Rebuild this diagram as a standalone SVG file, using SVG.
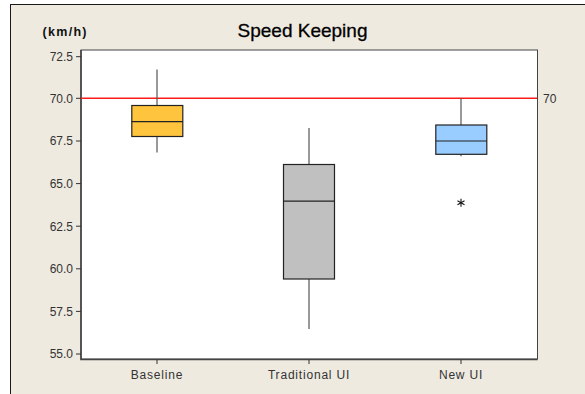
<svg xmlns="http://www.w3.org/2000/svg" width="585" height="394" viewBox="0 0 585 394">
  <style>
    .frame { fill: #EEEAE0; stroke: #1a1a1a; stroke-width: 1; }
    .plot { fill: #ffffff; stroke: #444; stroke-width: 1; }
    .axis { stroke: #444; stroke-width: 1.6; fill: none; }
    .tick { stroke: #333; stroke-width: 1; }
    .ylab { font-family: "Liberation Sans", Arial, sans-serif; font-size: 12px; fill: #333; text-anchor: end; }
    .xlab { font-family: "Liberation Sans", Arial, sans-serif; font-size: 12px; fill: #333; text-anchor: middle; letter-spacing: 0.8px; }
    .whisker { stroke: #555; stroke-width: 1.2; }
    .box { stroke: #222; stroke-width: 1.2; }
    .median { stroke: #222; stroke-width: 1.2; }
    .ref { stroke: #ff1a1a; stroke-width: 1.4; }
  </style>

  <!-- background panel -->
  <rect class="frame" x="10.5" y="4.5" width="600" height="420"/>

  <!-- titles -->
  <text x="302.5" y="37" font-family="Liberation Sans, Arial, sans-serif" font-size="19" fill="#000" stroke="#000" stroke-width="0.3" text-anchor="middle">Speed Keeping</text>
  <text x="42.5" y="36" font-family="Liberation Sans, Arial, sans-serif" font-size="12.5" font-weight="bold" fill="#111" letter-spacing="1.3">(km/h)</text>

  <!-- plot area -->
  <rect class="plot" x="81" y="50" width="456.5" height="309"/>
  <path class="axis" d="M81 50 V359.5 H537.5"/>

  <!-- y axis ticks and labels -->
  <g id="y-axis">
    <line class="tick" x1="76" y1="56.7" x2="81" y2="56.7"/>
    <line class="tick" x1="76" y1="98.3" x2="81" y2="98.3"/>
    <line class="tick" x1="76" y1="141" x2="81" y2="141"/>
    <line class="tick" x1="76" y1="183.6" x2="81" y2="183.6"/>
    <line class="tick" x1="76" y1="226.2" x2="81" y2="226.2"/>
    <line class="tick" x1="76" y1="268.8" x2="81" y2="268.8"/>
    <line class="tick" x1="76" y1="311.4" x2="81" y2="311.4"/>
    <line class="tick" x1="76" y1="354" x2="81" y2="354"/>
    <text class="ylab" x="73" y="61">72.5</text>
    <text class="ylab" x="73" y="102.6">70.0</text>
    <text class="ylab" x="73" y="145.3">67.5</text>
    <text class="ylab" x="73" y="187.9">65.0</text>
    <text class="ylab" x="73" y="230.5">62.5</text>
    <text class="ylab" x="73" y="273.1">60.0</text>
    <text class="ylab" x="73" y="315.7">57.5</text>
    <text class="ylab" x="73" y="358.3">55.0</text>
  </g>

  <!-- x axis ticks and labels -->
  <g id="x-axis">
    <line class="tick" x1="157" y1="359.5" x2="157" y2="364"/>
    <line class="tick" x1="309" y1="359.5" x2="309" y2="364"/>
    <line class="tick" x1="461" y1="359.5" x2="461" y2="364"/>
    <text class="xlab" x="157" y="379">Baseline</text>
    <text class="xlab" x="309" y="379">Traditional UI</text>
    <text class="xlab" x="461" y="379">New UI</text>
  </g>

  <!-- reference line at 70 -->
  <g id="reference">
    <line class="ref" x1="81" y1="98.3" x2="537" y2="98.3"/>
    <text x="543" y="102.6" font-family="Liberation Sans, Arial, sans-serif" font-size="12" fill="#333">70</text>
  </g>

  <!-- Baseline -->
  <g id="baseline">
    <line class="whisker" x1="157" y1="69.5" x2="157" y2="105.5"/>
    <line class="whisker" x1="157" y1="136.5" x2="157" y2="152.5"/>
    <rect class="box" x="131.8" y="105.5" width="51" height="31" fill="#FFC43D"/>
    <line class="median" x1="131.8" y1="121.7" x2="182.8" y2="121.7"/>
  </g>

  <!-- Traditional UI -->
  <g id="traditional">
    <line class="whisker" x1="309" y1="128" x2="309" y2="164.5"/>
    <line class="whisker" x1="309" y1="279" x2="309" y2="329"/>
    <rect class="box" x="283.5" y="164.5" width="51" height="114.5" fill="#C0C0C0"/>
    <line class="median" x1="283.5" y1="201.2" x2="334.5" y2="201.2"/>
  </g>

  <!-- New UI -->
  <g id="newui">
    <line class="whisker" x1="461" y1="98.3" x2="461" y2="125"/>
    <line class="whisker" x1="461" y1="154.3" x2="461" y2="156.3"/>
    <rect class="box" x="435.8" y="125" width="51" height="29.3" fill="#99CCFF"/>
    <line class="median" x1="435.8" y1="141" x2="486.8" y2="141"/>
    <!-- outlier -->
    <g stroke="#111" stroke-width="1.1">
      <line x1="461" y1="198.7" x2="461" y2="206.7"/>
      <line x1="457.5" y1="200.7" x2="464.5" y2="204.7"/>
      <line x1="457.5" y1="204.7" x2="464.5" y2="200.7"/>
    </g>
  </g>
</svg>
